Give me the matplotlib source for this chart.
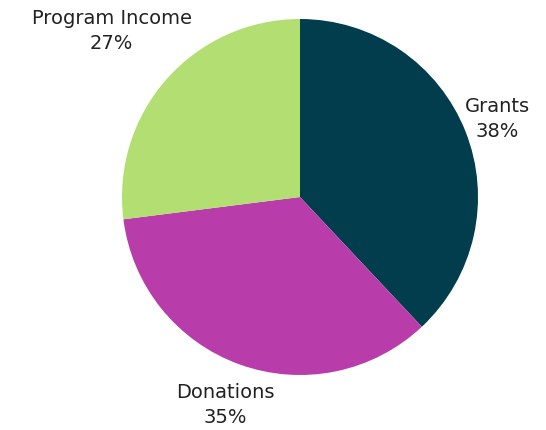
import matplotlib
matplotlib.use("Agg")
import matplotlib.pyplot as plt
import numpy as np

categories = ["Grants", "Donations", "Program Income"]
values = [38, 35, 27]
colors = ["#023d4d", "#b83dab", "#b3de71"]
label_dist = [1.19, 1.24, 1.41]

fig = plt.figure(figsize=(5.46, 4.30), dpi=100)
ax = fig.add_axes([0, 0, 1, 1])

cx, cy, r = 300, 430 - 197, 178
wedges, _ = ax.pie(values, colors=colors, startangle=90, counterclock=False,
                   center=(cx, cy), radius=r, frame=True,
                   wedgeprops=dict(linewidth=0))
ax.set_xlim(0, 546)
ax.set_ylim(0, 430)
ax.set_aspect("equal")
ax.axis("off")

for w, cat, v, d in zip(wedges, categories, values, label_dist):
    ang = np.deg2rad((w.theta1 + w.theta2) / 2)
    x = cx + d * r * np.cos(ang)
    y = cy + d * r * np.sin(ang)
    ax.text(x, y, f"{cat}\n{v}%", ha="center", va="center", fontsize=14,
            color="#222222", linespacing=1.4, family="DejaVu Sans")

fig.savefig("out.png", dpi=100)
